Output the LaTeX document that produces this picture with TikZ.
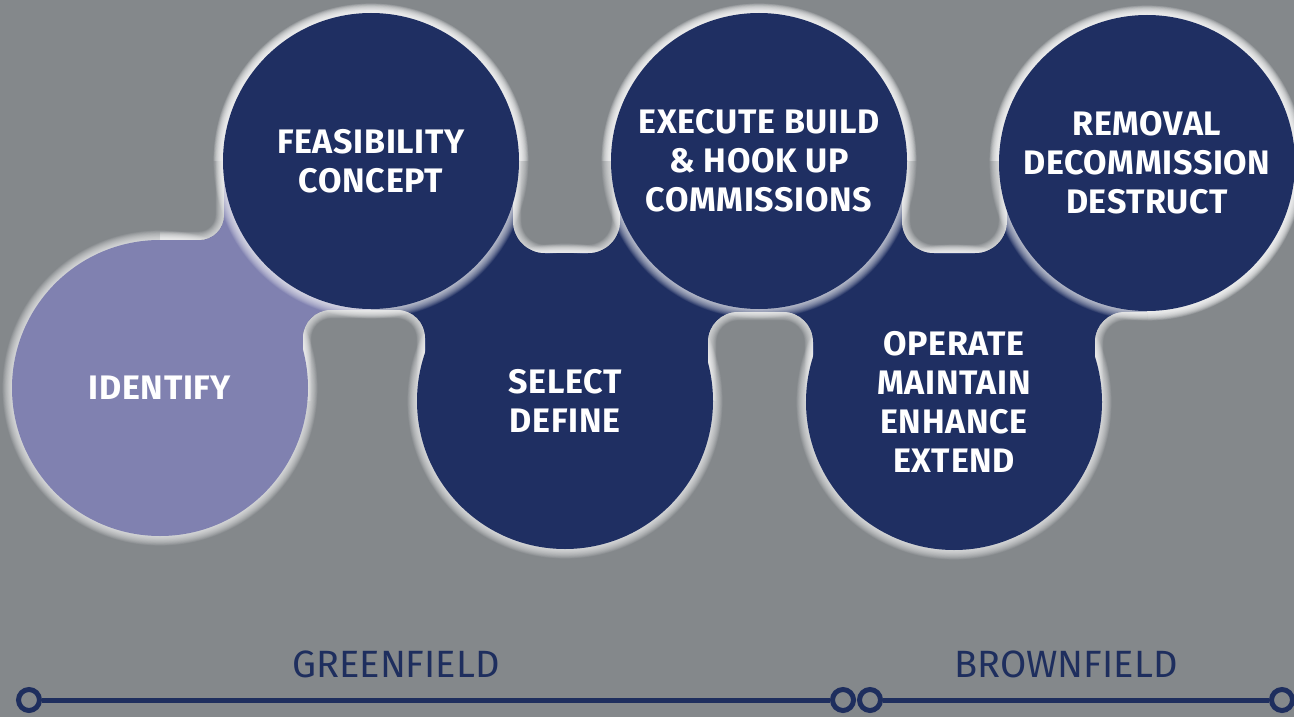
\documentclass[tikz,border=0pt]{standalone}
\usepackage{fontspec}
\setmainfont{Fira Sans}
\newfontfamily\stagefont[LetterSpace=2]{Fira Sans}

\definecolor{bggrey}{RGB}{132,136,139}
\definecolor{navy}{RGB}{31,47,98}
\definecolor{idlav}{RGB}{128,129,176}
\definecolor{lineblue}{RGB}{30,46,94}

\tikzset{
  stage/.style={circle, minimum size=296pt, inner sep=0pt, align=center, text=white,
    font=\stagefont\bfseries\fontsize{34}{39}\selectfont},
  glowring/.style={white, opacity=0.065},
  phase/.style={text=lineblue, font=\fontsize{38}{40}\selectfont},
  milestone/.style={circle, draw=lineblue, line width=5pt, fill=bggrey, minimum size=21pt, inner sep=0pt},
  timeline/.style={draw=lineblue, line width=5pt}
}

% soft white halo round a circle of the chain
\newcommand{\glowat}[1]{\foreach \k in {1,...,16} \draw[glowring, line width=\k*1.2pt] (#1) circle[radius=148];}

\begin{document}
\begin{tikzpicture}[x=1pt, y=-1pt]
\useasboundingbox (0,0) rectangle (1294,717);
\fill[bggrey] (0,0) rectangle (1294,717);

% circle centres
\coordinate (idf) at (160,388);
\coordinate (fea) at (371,161);
\coordinate (sel) at (565,401);
\coordinate (exe) at (759,161);
\coordinate (opr) at (954,402);
\coordinate (rem) at (1147,163);

\foreach \c in {idf,fea,sel,exe,opr,rem} {\glowat{\c}}

% bridges between the circles
\fill[idlav] (160,161) rectangle (371,400);
\fill[navy] (371,161) rectangle (1147,400);

% gaps cut into the bridges
\foreach \xa/\ya/\xb/\yb/\rc in {-10/-10/224/240/25, 513/-10/620/253/32, 902/-10/1007/253/32,
    303/310/425/730/28, 708/312/813/730/30, 1095/312/1310/730/30} {
  \begin{scope}
    \clip (160,161) rectangle (1147,400);
    \clip[rounded corners=\rc pt] (\xa,\ya) rectangle (\xb,\yb);
    \fill[bggrey] (\xa,\ya) rectangle (\xb,\yb);
    \foreach \k in {1,...,14}
      \draw[glowring, line width=\k*1.2pt, rounded corners=\rc pt] (\xa,\ya) rectangle (\xb,\yb);
    \foreach \c in {idf,sel,opr} {\glowat{\c}}
  \end{scope}
}

% lower row
\node[stage, fill=idlav] (idfnode) at (idf) {IDENTIFY};
\node[stage, fill=navy] (selnode) at (sel) {SELECT\\DEFINE};
\node[stage, fill=navy] (oprnode) at (opr) {OPERATE\\MAINTAIN\\ENHANCE\\EXTEND};

% upper row
\foreach \c in {fea,exe,rem} {\glowat{\c}}
\node[stage, fill=navy] (feanode) at (fea) {FEASIBILITY\\CONCEPT};
\node[stage, fill=navy] (exenode) at (exe) {EXECUTE BUILD\\\& HOOK UP\\COMMISSIONS};
\node[stage, fill=navy] (remnode) at (rem) {REMOVAL\\DECOMMISSION\\DESTRUCT};

% time line
\node[phase] (green) at (396,664) {GREENFIELD};
\node[phase] (brown) at (1066,664) {BROWNFIELD};
\node[milestone] (m1) at (29,700) {};
\node[milestone] (m2) at (843,700) {};
\node[milestone] (m3) at (870,700) {};
\node[milestone] (m4) at (1282,700) {};
\draw[timeline] (m1) -- (m2);
\draw[timeline] (m3) -- (m4);
\end{tikzpicture}
\end{document}
